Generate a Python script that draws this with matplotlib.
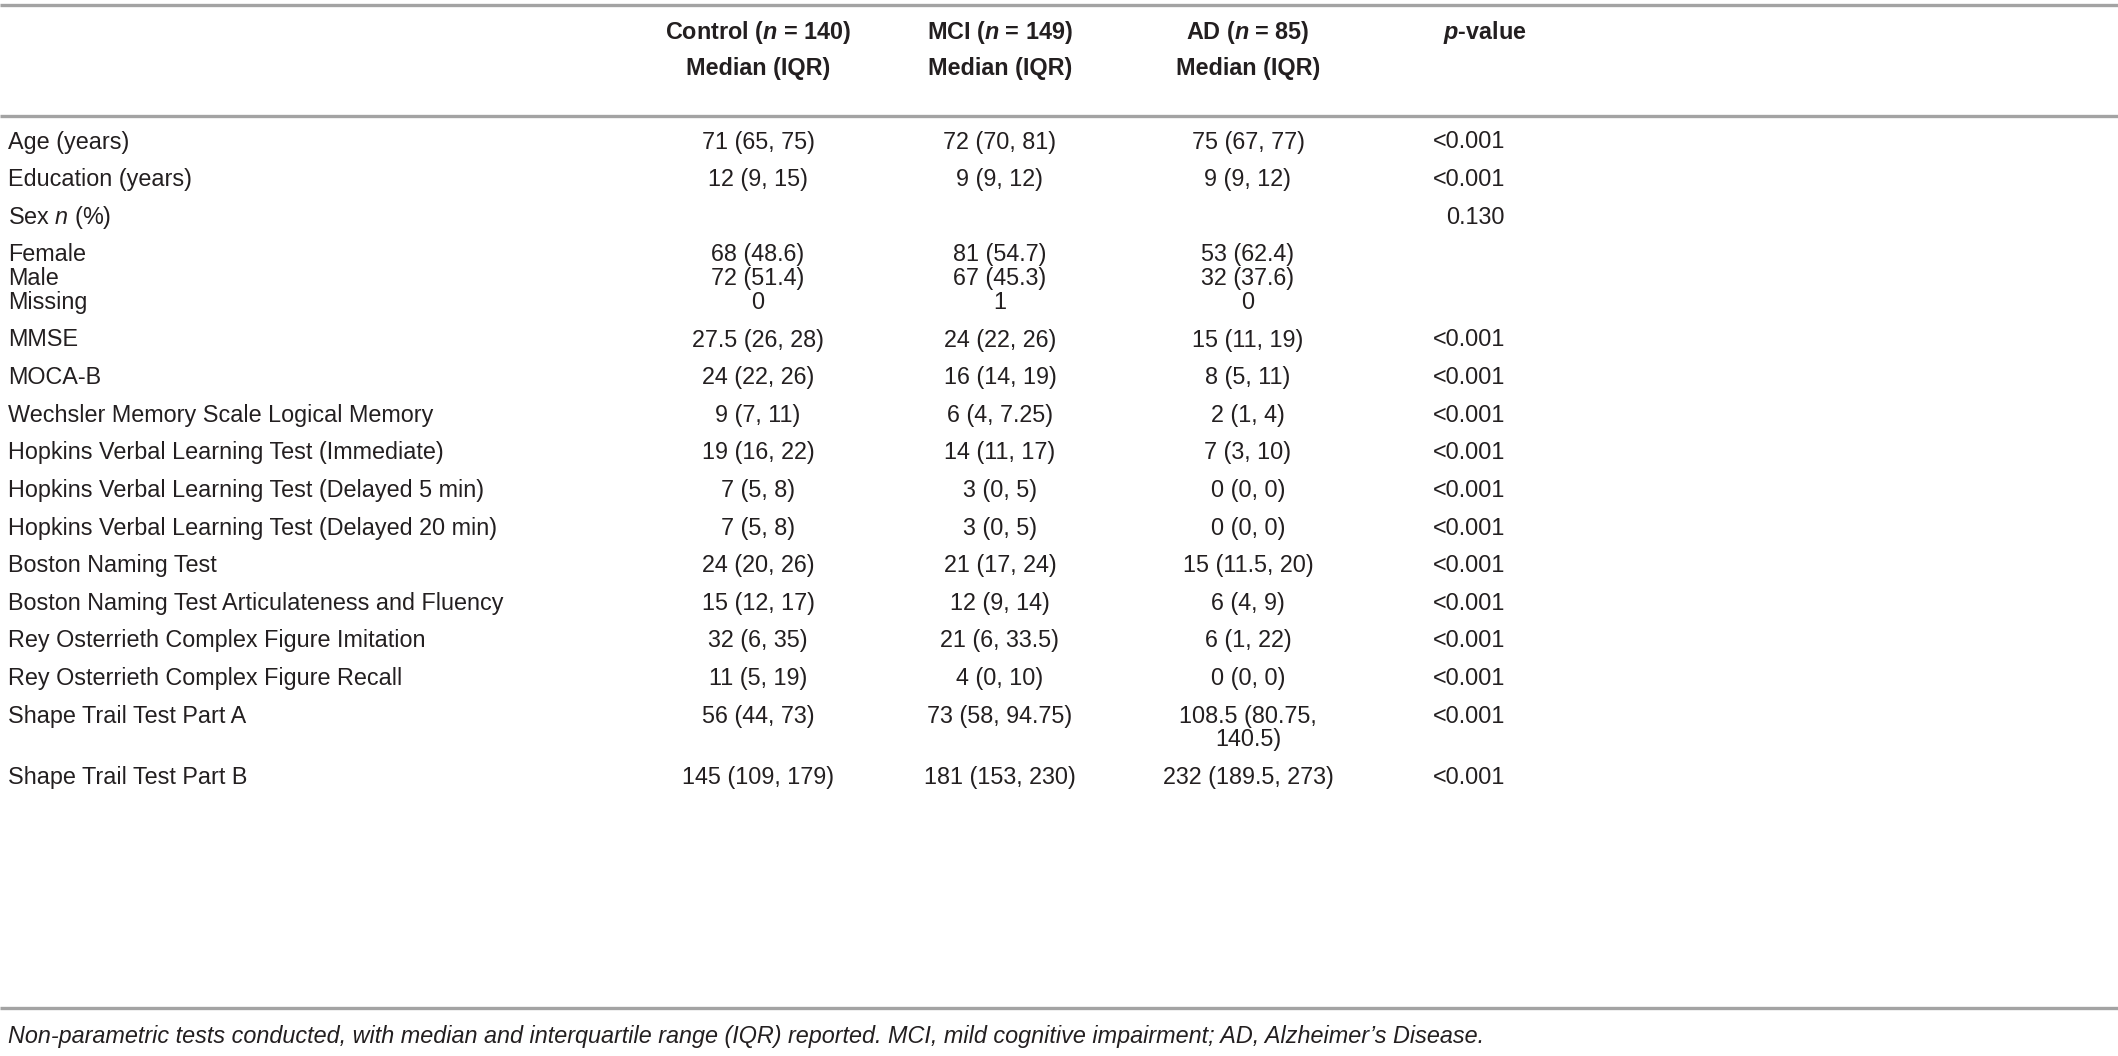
import matplotlib.pyplot as plt

plt.rcParams["font.family"] = "Liberation Sans"
plt.rcParams["mathtext.fontset"] = "custom"
plt.rcParams["mathtext.it"] = "Liberation Sans:italic"
plt.rcParams["mathtext.bf"] = "Liberation Sans:bold"
plt.rcParams["mathtext.bfit"] = "Liberation Sans:italic:bold"
plt.rcParams["mathtext.rm"] = "Liberation Sans"

headers = [
    ("Control ($\\mathbfit{n}$ = 140)", "Median (IQR)"),
    ("MCI ($\\mathbfit{n}$ = 149)", "Median (IQR)"),
    ("AD ($\\mathbfit{n}$ = 85)", "Median (IQR)"),
]
p_header = "$\\mathbfit{p}$-value"

variables = [
    "Age (years)", "Education (years)", "Sex $\\mathit{n}$ (%)", "Female", "Male",
    "Missing", "MMSE", "MOCA-B", "Wechsler Memory Scale Logical Memory",
    "Hopkins Verbal Learning Test (Immediate)",
    "Hopkins Verbal Learning Test (Delayed 5 min)",
    "Hopkins Verbal Learning Test (Delayed 20 min)", "Boston Naming Test",
    "Boston Naming Test Articulateness and Fluency",
    "Rey Osterrieth Complex Figure Imitation",
    "Rey Osterrieth Complex Figure Recall", "Shape Trail Test Part A",
    "Shape Trail Test Part B",
]
control = [
    "71 (65, 75)", "12 (9, 15)", "", "68 (48.6)", "72 (51.4)", "0",
    "27.5 (26, 28)", "24 (22, 26)", "9 (7, 11)", "19 (16, 22)", "7 (5, 8)",
    "7 (5, 8)", "24 (20, 26)", "15 (12, 17)", "32 (6, 35)", "11 (5, 19)",
    "56 (44, 73)", "145 (109, 179)",
]
mci = [
    "72 (70, 81)", "9 (9, 12)", "", "81 (54.7)", "67 (45.3)", "1",
    "24 (22, 26)", "16 (14, 19)", "6 (4, 7.25)", "14 (11, 17)", "3 (0, 5)",
    "3 (0, 5)", "21 (17, 24)", "12 (9, 14)", "21 (6, 33.5)", "4 (0, 10)",
    "73 (58, 94.75)", "181 (153, 230)",
]
ad = [
    "75 (67, 77)", "9 (9, 12)", "", "53 (62.4)", "32 (37.6)", "0",
    "15 (11, 19)", "8 (5, 11)", "2 (1, 4)", "7 (3, 10)", "0 (0, 0)",
    "0 (0, 0)", "15 (11.5, 20)", "6 (4, 9)", "6 (1, 22)", "0 (0, 0)",
    "108.5 (80.75,\n140.5)", "232 (189.5, 273)",
]
p_values = [
    "<0.001", "<0.001", "0.130", "", "", "",
    "<0.001", "<0.001", "<0.001", "<0.001", "<0.001", "<0.001", "<0.001",
    "<0.001", "<0.001", "<0.001", "<0.001", "<0.001",
]
# rows that continue the cell above (tight line spacing)
compact_rows = {"Male", "Missing"}

footnote = ("Non-parametric tests conducted, with median and interquartile range (IQR) "
            "reported. MCI, mild cognitive impairment; AD, Alzheimer\u2019s Disease.")

W, H = 2118, 1056
fig = plt.figure(figsize=(W / 100, H / 100), dpi=100)
ax = fig.add_axes([0, 0, 1, 1])
ax.set_xlim(0, W)
ax.set_ylim(H, 0)
ax.axis("off")

txt_color = "#231f20"
line_color = "#a3a3a3"
fs = 16.8
col_x = [758, 1000, 1248]
p_x = 1505
row_pitch = 37.6
line_pitch = 23.8

# rules
for y in (5, 116, 1008):
    ax.plot([0, W], [y, y], color=line_color, lw=2.4, solid_capstyle="butt")

# header
for x, (first, second) in zip(col_x, headers):
    ax.text(x, 32, first, ha="center", va="center", fontsize=fs, fontweight="bold",
            color=txt_color)
    ax.text(x, 68, second, ha="center", va="center", fontsize=fs, fontweight="bold",
            color=txt_color)
ax.text(1485, 32, p_header, ha="center", va="center", fontsize=fs,
        fontweight="bold", color=txt_color)

# body
y = 142
extra = 0
for i, var in enumerate(variables):
    if i > 0:
        y += (line_pitch if var in compact_rows else row_pitch) + extra
    ax.text(8, y, var, ha="left", va="center", fontsize=fs, color=txt_color)
    n_lines = 1
    for x, col in zip(col_x, (control, mci, ad)):
        parts = col[i].split("\n")
        n_lines = max(n_lines, len(parts))
        for k, part in enumerate(parts):
            ax.text(x, y + k * line_pitch, part, ha="center", va="center",
                    fontsize=fs, color=txt_color)
    ax.text(p_x, y, p_values[i], ha="right", va="center", fontsize=fs,
            color=txt_color)
    extra = (n_lines - 1) * line_pitch

ax.text(8, 1036, footnote, ha="left", va="center", fontsize=fs, style="italic",
        color=txt_color)

fig.savefig("out.png", dpi=100)
